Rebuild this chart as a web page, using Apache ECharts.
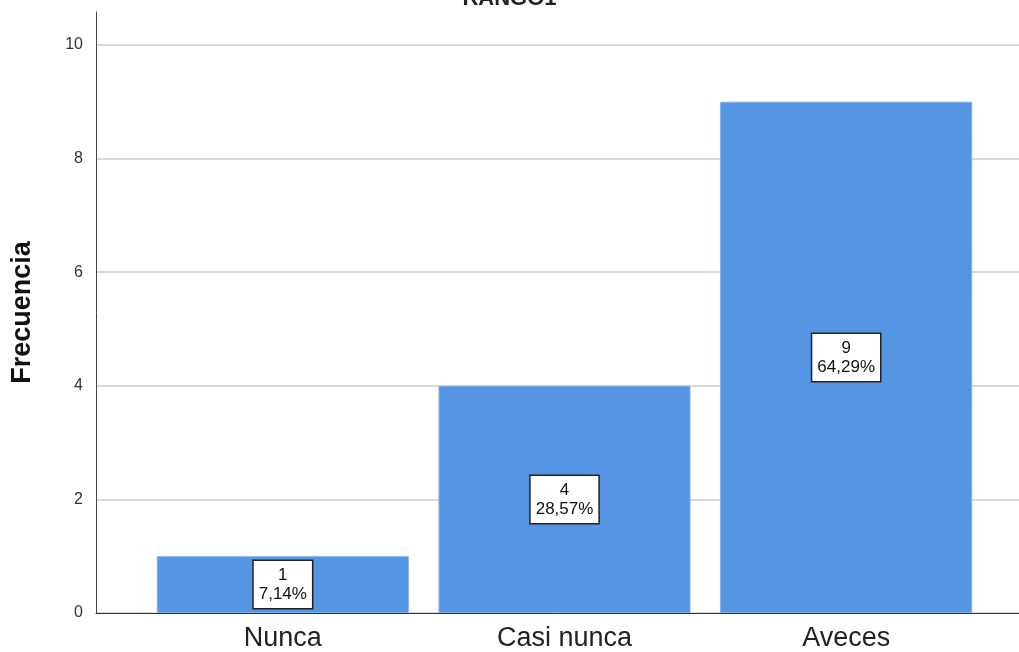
<!DOCTYPE html>
<html>
<head>
<meta charset="utf-8">
<script src="https://cdn.jsdelivr.net/npm/echarts@6/dist/echarts.min.js"></script>
<style>
  html, body { margin: 0; padding: 0; background: #fff; }
  #chart { width: 1019px; height: 652px; }
</style>
</head>
<body>
<div id="chart"></div>
<script>
const chartTitle = "RANGO1";
const categories = ["Nunca", "Casi nunca", "Aveces"];
const counts = [1, 4, 9];
const percents = ["7,14%", "28,57%", "64,29%"];
const yTicks = [0, 2, 4, 6, 8, 10];

const yMax = 10.58;
// grid lines at 0..10, none at the top end of the axis
const gridColors = yTicks.map(() => "#d9d9d9").concat(["rgba(0,0,0,0)"]);

const chart = echarts.init(document.getElementById("chart"));
chart.setOption({
  animation: false,
  title: {
    text: chartTitle,
    left: "center",
    top: -17,
    textStyle: { fontFamily: "Liberation Sans", fontSize: 22, fontWeight: "bold", color: "#222" }
  },
  grid: [
    // frame: axes + grid lines
    { left: 96, right: 0, top: 12, bottom: 39 },
    // bars
    { left: 142, right: 32, top: 12, bottom: 39 }
  ],
  xAxis: [
    {
      gridIndex: 0, type: "category", data: [""],
      axisLine: { lineStyle: { color: "#333", width: 1 } },
      axisTick: { show: false }, axisLabel: { show: false }
    },
    {
      gridIndex: 1, type: "category", data: categories,
      axisLine: { show: false }, axisTick: { show: false },
      axisLabel: { fontFamily: "Liberation Sans", fontSize: 27, color: "#222", margin: 12 }
    }
  ],
  yAxis: [
    {
      gridIndex: 0, type: "value", min: 0, max: yMax, interval: 2,
      name: "Frecuencia", nameLocation: "middle", nameGap: 60,
      nameTextStyle: { fontFamily: "Liberation Sans", fontSize: 27, fontWeight: "bold", color: "#111" },
      axisLine: { show: true, lineStyle: { color: "#444", width: 1 } },
      axisTick: { show: false },
      axisLabel: {
        showMaxLabel: false, margin: 13,
        fontFamily: "Liberation Sans", fontSize: 16, color: "#333"
      },
      splitLine: { show: true, lineStyle: { color: gridColors, width: 2 } }
    },
    {
      gridIndex: 1, type: "value", min: 0, max: yMax, interval: 2, show: false,
      splitLine: { show: false }
    }
  ],
  series: [
    {
      type: "bar",
      xAxisIndex: 1, yAxisIndex: 1,
      data: counts,
      barWidth: 252,
      itemStyle: { color: "#5595e4", borderColor: "#7eaeec", borderWidth: 1 },
      label: {
        show: true,
        position: "inside",
        formatter: p => counts[p.dataIndex] + "\n" + percents[p.dataIndex],
        fontFamily: "Liberation Sans", fontSize: 17, lineHeight: 19, color: "#111",
        backgroundColor: "#fff", borderColor: "#222", borderWidth: 1.5,
        padding: [5, 5, 4, 5], align: "center"
      }
    }
  ]
});
</script>
</body>
</html>
